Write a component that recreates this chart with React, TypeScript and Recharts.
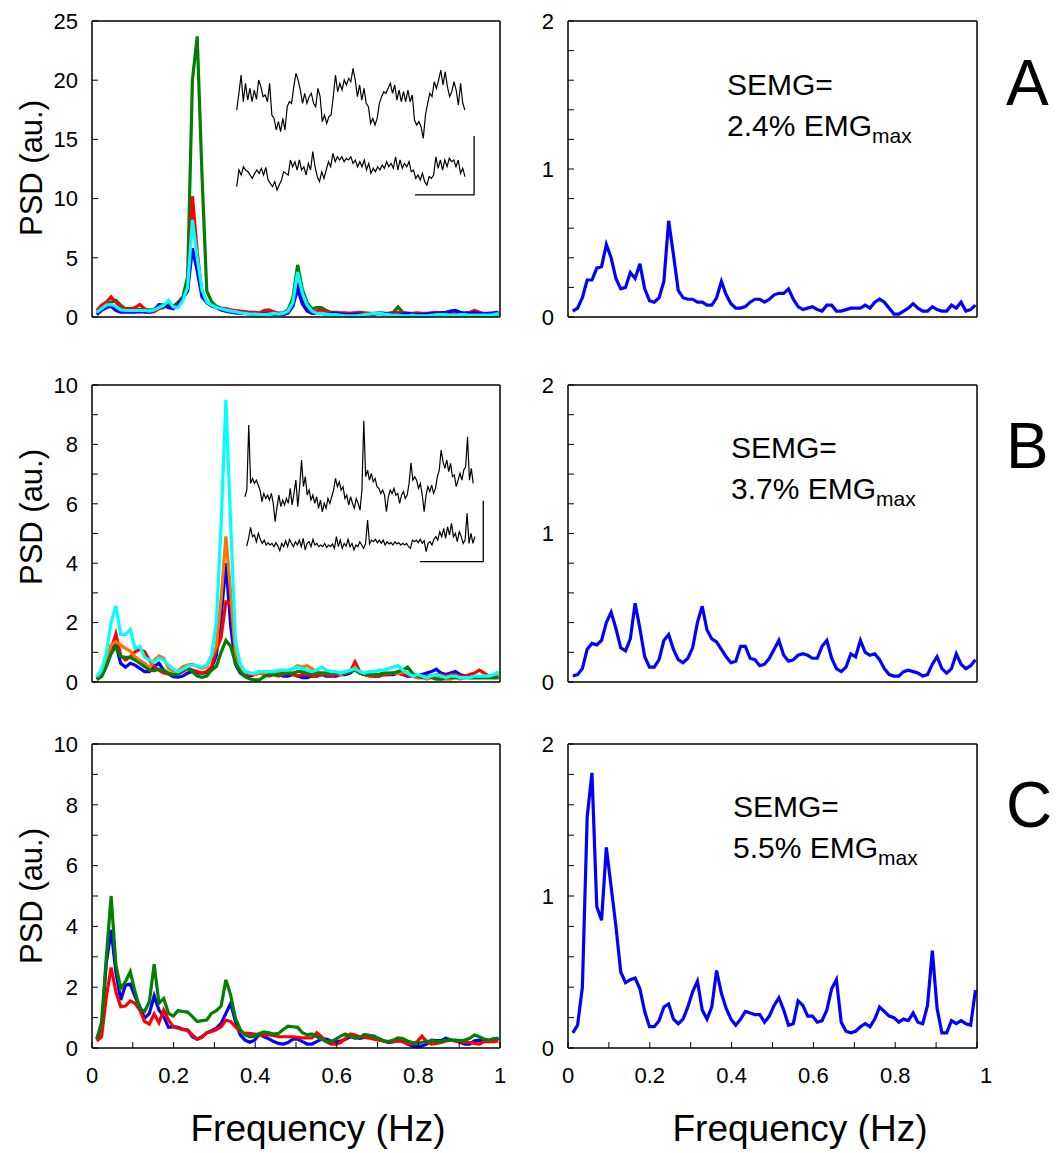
import React from "react";
import { LineChart, Line, XAxis, YAxis, ReferenceLine } from "recharts";

// frequency grid of the spectra (Hz)
const DF = 0.01172;
const FREQ = Array.from({ length: 85 }, (_, k) => Number(((k + 1) * DF).toFixed(5)));

const X_TICKS = [0, 0.1, 0.2, 0.3, 0.4, 0.5, 0.6, 0.7, 0.8, 0.9, 1];
const PSD_TICKS_A = [0, 5, 10, 15, 20, 25];
const PSD_TICKS_BC = [0, 1, 2, 3, 4, 5, 6, 7, 8, 9, 10];
const SEMG_TICKS = [0, 0.2, 0.4, 0.6, 0.8, 1, 1.2, 1.4, 1.6, 1.8, 2];

// --- panel A, left: PSD of each recording
const A_GREEN = [
  0.4, 0.7, 1.0, 1.25, 1.4, 1.0, 0.7, 0.6, 0.63, 0.63, 0.63, 0.6, 0.6, 0.7, 0.8, 1.05, 0.9, 1.25, 1.7, 3.4,
  20.0, 23.7, 12.0, 2.2, 1.3, 0.9, 0.75, 0.7, 0.55, 0.5, 0.45, 0.4, 0.3, 0.3, 0.3, 0.4, 0.35, 0.35, 0.3, 0.35,
  0.6, 1.6, 4.4, 2.3, 1.2, 0.7, 0.8, 0.8, 0.55, 0.35, 0.3, 0.3, 0.25, 0.3, 0.3, 0.25, 0.2, 0.2, 0.25, 0.3,
  0.25, 0.3, 0.4, 0.85, 0.4, 0.3, 0.25, 0.2, 0.2, 0.25, 0.25, 0.2, 0.2, 0.25, 0.3, 0.25, 0.2, 0.2, 0.25, 0.3,
  0.25, 0.2, 0.2, 0.2, 0.2,
];
const A_RED = [
  0.55, 1.0, 1.25, 1.7, 1.25, 0.8, 0.7, 0.7, 0.8, 1.05, 0.7, 0.4, 0.45, 0.7, 1.0, 0.8, 0.9, 1.1, 1.6, 2.2,
  10.2, 5.5, 2.0, 1.25, 0.95, 0.8, 0.7, 0.7, 0.6, 0.55, 0.5, 0.45, 0.4, 0.4, 0.35, 0.55, 0.6, 0.45, 0.3, 0.3,
  0.4, 1.0, 2.9, 1.4, 0.8, 0.5, 0.5, 0.6, 0.45, 0.4, 0.4, 0.35, 0.35, 0.3, 0.35, 0.4, 0.35, 0.3, 0.3, 0.35,
  0.3, 0.3, 0.35, 0.4, 0.35, 0.3, 0.3, 0.35, 0.3, 0.3, 0.35, 0.4, 0.35, 0.3, 0.3, 0.35, 0.3, 0.35, 0.4, 0.55,
  0.4, 0.3, 0.3, 0.25, 0.3,
];
const A_BLUE = [
  0.2, 0.55, 0.8, 0.9, 0.55, 0.4, 0.4, 0.4, 0.4, 0.45, 0.4, 0.4, 0.6, 1.05, 1.0, 0.8, 0.7, 1.0, 1.55, 2.2,
  5.8, 3.9, 1.7, 1.2, 0.95, 0.8, 0.6, 0.5, 0.4, 0.35, 0.3, 0.3, 0.25, 0.2, 0.2, 0.25, 0.3, 0.25, 0.2, 0.2,
  0.35, 0.9, 2.4, 1.1, 0.5, 0.3, 0.3, 0.3, 0.25, 0.3, 0.3, 0.25, 0.2, 0.2, 0.25, 0.25, 0.2, 0.2, 0.25, 0.35,
  0.3, 0.25, 0.2, 0.2, 0.25, 0.3, 0.25, 0.2, 0.2, 0.25, 0.3, 0.3, 0.35, 0.4, 0.5, 0.55, 0.4, 0.3, 0.3, 0.35,
  0.3, 0.25, 0.3, 0.35, 0.4,
];
const A_CYAN = [
  0.4, 0.7, 1.0, 1.05, 0.9, 0.6, 0.55, 0.55, 0.55, 0.55, 0.55, 0.5, 0.6, 0.8, 1.0, 1.4, 0.85, 0.8, 1.4, 2.5,
  8.2, 5.0, 2.3, 1.25, 1.0, 0.8, 0.7, 0.6, 0.5, 0.45, 0.35, 0.3, 0.25, 0.25, 0.2, 0.2, 0.25, 0.3, 0.25, 0.3,
  0.5, 1.2, 3.8, 2.0, 1.0, 0.5, 0.3, 0.3, 0.25, 0.2, 0.2, 0.15, 0.1, 0.1, 0.1, 0.15, 0.2, 0.25, 0.3, 0.35,
  0.25, 0.2, 0.15, 0.15, 0.1, 0.1, 0.15, 0.1, 0.1, 0.1, 0.15, 0.2, 0.2, 0.2, 0.15, 0.15, 0.2, 0.2, 0.15, 0.15,
  0.15, 0.15, 0.15, 0.2, 0.3,
];

// --- panel B, left
const B_CYAN = [
  0.18, 0.4, 0.97, 2.0, 2.56, 1.6, 1.6, 1.77, 1.13, 1.2, 0.83, 0.74, 0.68, 0.8, 0.74, 0.57, 0.43, 0.35, 0.43, 0.52,
  0.57, 0.54, 0.5, 0.57, 0.9, 2.0, 5.3, 9.5, 5.3, 1.4, 0.6, 0.35, 0.3, 0.3, 0.35, 0.35, 0.35, 0.35, 0.4, 0.4,
  0.4, 0.45, 0.5, 0.45, 0.4, 0.35, 0.4, 0.5, 0.4, 0.35, 0.35, 0.3, 0.35, 0.4, 0.45, 0.35, 0.3, 0.35, 0.35, 0.4,
  0.4, 0.45, 0.5, 0.55, 0.4, 0.3, 0.2, 0.25, 0.2, 0.15, 0.2, 0.25, 0.2, 0.15, 0.2, 0.2, 0.15, 0.15, 0.15, 0.2,
  0.2, 0.2, 0.2, 0.25, 0.35,
];
const B_ORANGE = [
  0.12, 0.3, 0.74, 1.25, 1.36, 1.25, 1.13, 1.04, 0.85, 0.74, 0.63, 0.46, 0.74, 0.88, 0.8, 0.46, 0.35, 0.38, 0.52, 0.57,
  0.6, 0.52, 0.46, 0.52, 0.85, 1.2, 2.8, 4.9, 3.0, 1.0, 0.45, 0.35, 0.3, 0.25, 0.3, 0.3, 0.3, 0.35, 0.3, 0.35,
  0.35, 0.45, 0.55, 0.5, 0.55, 0.45, 0.35, 0.3, 0.3, 0.3, 0.3, 0.25, 0.3, 0.35, 0.5, 0.3, 0.25, 0.25, 0.25, 0.25,
  0.3, 0.3, 0.3, 0.3, 0.35, 0.3, 0.2, 0.15, 0.15, 0.1, 0.15, 0.15, 0.1, 0.1, 0.1, 0.15, 0.1, 0.15, 0.15, 0.15,
  0.15, 0.2, 0.2, 0.2, 0.2,
];
const B_RED = [
  0.16, 0.35, 0.74, 1.1, 1.62, 0.9, 0.74, 0.85, 1.02, 1.1, 1.02, 0.74, 0.52, 0.4, 0.3, 0.27, 0.24, 0.27, 0.35, 0.46,
  0.4, 0.35, 0.3, 0.35, 0.52, 1.08, 1.5, 2.7, 2.65, 1.0, 0.35, 0.25, 0.25, 0.25, 0.3, 0.25, 0.2, 0.25, 0.2, 0.25,
  0.3, 0.25, 0.2, 0.25, 0.25, 0.2, 0.2, 0.25, 0.25, 0.2, 0.25, 0.25, 0.3, 0.35, 0.68, 0.35, 0.25, 0.2, 0.2, 0.2,
  0.25, 0.25, 0.3, 0.3, 0.25, 0.25, 0.2, 0.15, 0.15, 0.2, 0.2, 0.25, 0.25, 0.2, 0.25, 0.25, 0.2, 0.2, 0.25, 0.3,
  0.4, 0.3, 0.2, 0.2, 0.2,
];
const B_BLUE = [
  0.09, 0.2, 0.57, 0.97, 1.25, 0.63, 0.5, 0.63, 0.57, 0.46, 0.35, 0.35, 0.52, 0.63, 0.4, 0.27, 0.18, 0.16, 0.2, 0.3,
  0.35, 0.31, 0.3, 0.31, 0.46, 0.9, 2.2, 4.0, 1.9, 0.6, 0.3, 0.2, 0.2, 0.25, 0.35, 0.35, 0.3, 0.25, 0.25, 0.2,
  0.2, 0.25, 0.2, 0.15, 0.15, 0.2, 0.2, 0.25, 0.2, 0.2, 0.2, 0.25, 0.25, 0.3, 0.45, 0.3, 0.25, 0.25, 0.2, 0.2,
  0.25, 0.25, 0.25, 0.3, 0.25, 0.2, 0.2, 0.2, 0.25, 0.3, 0.35, 0.43, 0.3, 0.25, 0.3, 0.35, 0.25, 0.2, 0.15, 0.15,
  0.15, 0.15, 0.15, 0.15, 0.15,
];
const B_GREEN = [
  0.09, 0.18, 0.52, 0.97, 1.19, 0.85, 0.83, 0.83, 0.74, 0.63, 0.52, 0.4, 0.38, 0.43, 0.4, 0.3, 0.24, 0.27, 0.4, 0.46,
  0.35, 0.2, 0.16, 0.2, 0.4, 0.52, 1.0, 1.4, 1.2, 0.63, 0.35, 0.18, 0.1, 0.07, 0.07, 0.18, 0.25, 0.25, 0.25, 0.3,
  0.3, 0.3, 0.35, 0.35, 0.3, 0.3, 0.3, 0.3, 0.3, 0.3, 0.3, 0.3, 0.3, 0.35, 0.4, 0.3, 0.25, 0.25, 0.25, 0.25,
  0.3, 0.3, 0.3, 0.35, 0.4, 0.5, 0.3, 0.2, 0.15, 0.2, 0.15, 0.1, 0.1, 0.15, 0.15, 0.15, 0.15, 0.15, 0.15, 0.15,
  0.15, 0.15, 0.15, 0.15, 0.15,
];

// --- panel C, left
const C_GREEN = [
  0.3, 0.85, 3.0, 5.0, 2.73, 1.96, 2.18, 2.51, 1.85, 1.3, 1.2, 1.52, 2.76, 1.47, 1.63, 1.14, 1.05, 1.23, 1.2, 1.18,
  1.03, 0.87, 0.9, 0.92, 1.14, 1.23, 1.38, 2.24, 1.74, 0.98, 0.61, 0.43, 0.37, 0.39, 0.48, 0.53, 0.5, 0.46, 0.48, 0.61,
  0.72, 0.7, 0.68, 0.5, 0.43, 0.46, 0.37, 0.29, 0.21, 0.21, 0.29, 0.39, 0.46, 0.39, 0.32, 0.35, 0.45, 0.42, 0.37, 0.31,
  0.24, 0.21, 0.26, 0.33, 0.31, 0.23, 0.18, 0.15, 0.19, 0.21, 0.24, 0.21, 0.22, 0.26, 0.26, 0.26, 0.24, 0.26, 0.32, 0.43,
  0.37, 0.29, 0.26, 0.31, 0.32,
];
const C_BLUE = [
  0.29, 0.7, 2.8, 3.88, 2.5, 1.58, 2.07, 2.1, 1.69, 1.36, 0.98, 1.14, 1.72, 1.25, 1.03, 0.68, 0.7, 0.68, 0.61, 0.59,
  0.37, 0.29, 0.37, 0.5, 0.57, 0.65, 0.81, 1.14, 1.47, 0.87, 0.43, 0.26, 0.19, 0.26, 0.46, 0.37, 0.3, 0.21, 0.15, 0.13,
  0.18, 0.29, 0.29, 0.21, 0.13, 0.13, 0.21, 0.29, 0.29, 0.23, 0.21, 0.23, 0.29, 0.37, 0.35, 0.32, 0.35, 0.39, 0.39, 0.29,
  0.23, 0.18, 0.21, 0.24, 0.21, 0.13, 0.07, 0.04, 0.07, 0.13, 0.26, 0.24, 0.24, 0.32, 0.26, 0.24, 0.18, 0.13, 0.13, 0.24,
  0.26, 0.23, 0.21, 0.26, 0.32,
];
const C_RED = [
  0.23, 0.37, 1.69, 2.65, 1.85, 1.36, 1.38, 1.55, 1.47, 1.25, 0.87, 0.79, 1.12, 0.83, 1.25, 0.92, 0.7, 0.65, 0.61, 0.59,
  0.43, 0.29, 0.35, 0.5, 0.54, 0.61, 0.7, 0.92, 0.87, 0.7, 0.54, 0.48, 0.48, 0.46, 0.43, 0.44, 0.43, 0.41, 0.37, 0.37,
  0.37, 0.37, 0.35, 0.33, 0.33, 0.33, 0.5, 0.37, 0.21, 0.13, 0.13, 0.18, 0.32, 0.46, 0.43, 0.37, 0.35, 0.32, 0.29, 0.26,
  0.23, 0.2, 0.21, 0.24, 0.21, 0.15, 0.13, 0.21, 0.39, 0.21, 0.13, 0.15, 0.18, 0.23, 0.26, 0.23, 0.2, 0.19, 0.18, 0.15,
  0.13, 0.21, 0.21, 0.21, 0.23,
];

// --- right column: PSD of the SEMG signal
const A_SEMG = [
  0.04, 0.06, 0.13, 0.25, 0.25, 0.33, 0.34, 0.49, 0.4, 0.26, 0.19, 0.2, 0.3, 0.26, 0.36, 0.19, 0.11, 0.1, 0.13, 0.24,
  0.65, 0.42, 0.18, 0.13, 0.12, 0.12, 0.1, 0.1, 0.08, 0.08, 0.13, 0.24, 0.15, 0.09, 0.06, 0.06, 0.07, 0.1, 0.12, 0.12,
  0.1, 0.12, 0.15, 0.16, 0.16, 0.19, 0.12, 0.07, 0.05, 0.06, 0.07, 0.05, 0.04, 0.08, 0.08, 0.04, 0.04, 0.05, 0.06, 0.06,
  0.06, 0.08, 0.06, 0.1, 0.12, 0.1, 0.06, 0.02, 0.02, 0.04, 0.06, 0.09, 0.06, 0.04, 0.04, 0.07, 0.05, 0.04, 0.04, 0.08,
  0.06, 0.1, 0.04, 0.05, 0.08,
];
const B_SEMG = [
  0.04, 0.05, 0.09, 0.22, 0.26, 0.25, 0.28, 0.4, 0.47, 0.36, 0.23, 0.21, 0.29, 0.53, 0.36, 0.17, 0.1, 0.1, 0.15, 0.28,
  0.32, 0.22, 0.15, 0.13, 0.16, 0.23, 0.4, 0.51, 0.35, 0.29, 0.27, 0.22, 0.17, 0.13, 0.14, 0.24, 0.24, 0.16, 0.15, 0.11,
  0.12, 0.16, 0.22, 0.28, 0.18, 0.14, 0.15, 0.18, 0.19, 0.18, 0.16, 0.16, 0.24, 0.28, 0.16, 0.09, 0.07, 0.1, 0.19, 0.17,
  0.28, 0.2, 0.18, 0.19, 0.15, 0.09, 0.05, 0.04, 0.04, 0.07, 0.08, 0.07, 0.06, 0.04, 0.05, 0.12, 0.17, 0.09, 0.06, 0.09,
  0.19, 0.12, 0.09, 0.11, 0.15,
];
const C_SEMG = [
  0.1, 0.15, 0.4, 1.52, 1.81, 0.93, 0.84, 1.32, 1.06, 0.8, 0.5, 0.43, 0.45, 0.46, 0.39, 0.24, 0.14, 0.14, 0.18, 0.27,
  0.29, 0.19, 0.16, 0.19, 0.27, 0.37, 0.44, 0.25, 0.19, 0.27, 0.51, 0.36, 0.26, 0.19, 0.15, 0.19, 0.24, 0.23, 0.22, 0.22,
  0.17, 0.21, 0.28, 0.33, 0.25, 0.15, 0.16, 0.31, 0.28, 0.21, 0.21, 0.17, 0.18, 0.25, 0.39, 0.45, 0.17, 0.11, 0.1, 0.11,
  0.14, 0.16, 0.14, 0.19, 0.27, 0.24, 0.21, 0.2, 0.17, 0.19, 0.18, 0.23, 0.17, 0.16, 0.28, 0.64, 0.26, 0.1, 0.1, 0.18,
  0.16, 0.18, 0.16, 0.15, 0.38,
];

// --- inset raw traces (height inside the inset box, 0..100)
const A_TRACE_TOP = [
  66.1, 79.0, 93.1, 72.5, 86.7, 73.8, 82.8, 72.5, 81.5, 74.3, 89.2, 84.1, 76.4, 77.7, 72.5, 86.7, 62.3, 59.7, 50.8, 57.2,
  49.5, 59.7, 50.8, 68.7, 72.5, 71.3, 84.1, 94.3, 89.2, 81.5, 71.3, 79.0, 71.3, 76.4, 79.0, 71.3, 68.7, 82.8, 76.4, 57.2,
  62.3, 55.9, 61.0, 62.3, 76.4, 93.1, 80.2, 86.7, 81.5, 89.2, 85.4, 90.5, 87.9, 98.2, 89.2, 76.4, 85.4, 73.8, 82.8, 71.3,
  68.7, 55.9, 59.7, 54.6, 59.7, 71.3, 76.4, 80.2, 79.0, 82.8, 86.7, 79.0, 85.4, 73.8, 81.5, 72.5, 80.2, 72.5, 81.5, 72.5,
  77.7, 58.4, 54.6, 57.2, 53.3, 44.3, 62.3, 71.3, 79.0, 76.4, 87.9, 82.8, 89.2, 96.9, 85.4, 95.6, 84.1, 76.4, 80.2, 87.9,
  81.5, 70.0, 86.7, 71.3, 66.1,
];
const A_TRACE_BOTTOM = [
  7.2, 20.0, 16.1, 22.5, 20.0, 18.7, 16.1, 13.6, 17.4, 20.0, 17.4, 21.3, 16.1, 22.0, 12.3, 9.7, 7.2, 11.0, 4.6, 8.4,
  12.3, 18.7, 17.4, 16.1, 27.7, 22.5, 26.4, 20.0, 27.7, 20.0, 22.5, 16.1, 25.1, 20.0, 34.1, 22.5, 14.9, 11.0, 18.7, 13.6,
  20.0, 26.4, 22.5, 32.8, 26.4, 30.2, 27.7, 30.2, 26.4, 29.0, 27.7, 30.2, 25.1, 27.7, 22.5, 26.4, 22.5, 27.7, 20.0, 25.1,
  17.4, 21.3, 18.7, 22.5, 20.0, 23.8, 21.3, 26.4, 22.5, 25.1, 21.3, 30.2, 20.0, 27.7, 21.3, 25.1, 22.5, 26.4, 18.7, 20.0,
  13.6, 16.1, 12.3, 17.4, 11.0, 8.4, 14.9, 13.6, 16.1, 30.2, 21.3, 27.7, 20.0, 27.7, 22.5, 29.0, 26.4, 27.7, 22.5, 27.7,
  17.4, 21.3, 14.9,
];
const B_TRACE_TOP = [
  45.5, 50.0, 93.3, 54.4, 57.7, 54.4, 56.6, 53.3, 50.0, 42.2, 47.7, 44.4, 46.6, 43.3, 47.7, 41.1, 28.9, 38.9, 46.6, 38.9,
  43.3, 40.0, 44.4, 41.1, 51.1, 40.0, 47.7, 56.6, 38.9, 52.2, 70.0, 52.2, 58.9, 46.6, 50.0, 43.3, 46.6, 41.1, 45.5, 37.8,
  43.3, 35.5, 41.1, 37.8, 44.4, 41.1, 45.5, 50.0, 57.7, 52.2, 55.5, 50.0, 52.2, 44.4, 46.6, 40.0, 45.5, 41.1, 37.8, 44.4,
  41.1, 36.6, 50.0, 96.2, 58.9, 63.3, 56.6, 61.1, 55.5, 57.7, 52.2, 51.1, 47.7, 50.0, 46.6, 35.5, 45.5, 50.0, 47.7, 51.1,
  46.6, 47.7, 41.1, 46.6, 48.9, 44.4, 46.6, 54.4, 68.2, 56.6, 58.9, 56.6, 51.1, 54.4, 46.6, 35.5, 46.6, 52.2, 48.9, 53.3,
  47.7, 51.1, 58.9, 63.3, 76.6, 68.9, 64.4, 70.0, 62.2, 67.7, 58.9, 60.0, 52.2, 56.6, 61.1, 56.6, 63.3, 65.5, 85.5, 56.6,
  64.4, 54.4,
];
const B_TRACE_BOTTOM = [
  12.6, 17.7, 25.1, 18.9, 20.0, 15.5, 21.1, 17.1, 14.4, 16.6, 13.3, 14.9, 13.3, 14.4, 12.2, 14.9, 12.6, 9.5, 14.4, 12.2,
  16.2, 12.2, 17.1, 14.4, 12.2, 15.5, 13.3, 16.6, 12.2, 17.7, 10.0, 14.4, 15.5, 12.2, 17.1, 13.3, 14.4, 12.2, 13.3, 12.2,
  14.4, 11.7, 13.3, 12.2, 14.0, 11.1, 18.9, 12.2, 16.6, 11.1, 14.4, 12.6, 17.1, 12.2, 14.4, 10.0, 13.3, 12.2, 15.5, 13.3,
  11.1, 14.4, 30.0, 14.0, 16.6, 15.5, 17.1, 14.9, 16.6, 14.4, 16.6, 13.3, 15.5, 14.0, 14.9, 13.3, 15.5, 14.0, 14.9, 13.3,
  14.4, 13.3, 14.4, 12.2, 11.1, 16.6, 15.5, 16.6, 14.9, 17.1, 14.4, 16.2, 8.9, 14.4, 15.5, 13.3, 17.1, 18.9, 16.6, 22.2,
  18.9, 24.4, 17.7, 25.5, 20.0, 27.7, 18.9, 21.1, 15.5, 22.2, 18.9, 14.4, 16.6, 34.4, 14.4, 21.1, 14.4, 18.9,
];

type Series = { key: string; color: string; values: number[] };

const FONT = '"Liberation Sans", Arial, Helvetica, sans-serif';
const AX_W = 60; // left axis band
const AX_H = 46; // bottom axis band
const TOP_H = 16; // room above the frame for the top tick label
const RIGHT_W = 18; // room right of the frame for the last x label

function rowsOf(series: Series[]) {
  return FREQ.map((f, k) => {
    const row: Record<string, number> = { f };
    series.forEach((s) => {
      row[s.key] = s.values[k];
    });
    return row;
  });
}

// x tick labels: every 0.2, optional nudge of the final "1"
function makeXTick(lastShift: number) {
  return function XTick(props: any) {
    const { x, y, payload } = props;
    const v = payload.value as number;
    if (Math.round(v * 10) % 2 !== 0) return <g />;
    return (
      <text x={x + (v === 1 ? lastShift : 0)} y={y} dy="0.71em" textAnchor="middle" fontSize={22} fill="#000">
        {String(v)}
      </text>
    );
  };
}

type PanelProps = {
  left: number;
  top: number;
  bottom: number;
  width: number;
  domain: [number, number];
  yTicks: number[];
  yFormat: (v: number) => string;
  showX: boolean;
  lastShift: number;
  series: Series[];
};

function Panel({ left, top, bottom, width, domain, yTicks, yFormat, showX, lastShift, series }: PanelProps) {
  const h = bottom - top;
  const axisLine = { stroke: "#000", strokeWidth: 1.5 };
  const tickLine = { stroke: "#000", strokeWidth: 1 };
  return (
    <div style={{ position: "absolute", left: left - AX_W, top: top - TOP_H }}>
      <LineChart
        width={AX_W + width + RIGHT_W}
        height={TOP_H + h + AX_H}
        data={rowsOf(series)}
        margin={{ top: 0, right: 0, bottom: 0, left: 0 }}
      >
        <XAxis
          xAxisId="b"
          dataKey="f"
          type="number"
          domain={[0, 1]}
          ticks={X_TICKS}
          interval={0}
          height={AX_H}
          tickSize={-6}
          tickMargin={25}
          axisLine={axisLine}
          tickLine={tickLine}
          tick={showX ? makeXTick(lastShift) : false}
        />
        <XAxis
          xAxisId="t"
          orientation="top"
          dataKey="f"
          type="number"
          domain={[0, 1]}
          ticks={X_TICKS}
          interval={0}
          height={TOP_H}
          tickSize={-6}
          axisLine={axisLine}
          tickLine={tickLine}
          tick={false}
        />
        <YAxis
          yAxisId="l"
          type="number"
          domain={domain}
          ticks={yTicks}
          interval={0}
          width={AX_W}
          tickSize={-6}
          tickMargin={20}
          axisLine={axisLine}
          tickLine={tickLine}
          tick={{ fontSize: 22, fill: "#000" }}
          tickFormatter={yFormat}
        />
        <YAxis
          yAxisId="r"
          orientation="right"
          type="number"
          domain={domain}
          ticks={yTicks}
          interval={0}
          width={RIGHT_W}
          tickSize={-6}
          axisLine={axisLine}
          tickLine={tickLine}
          tick={false}
        />
        {series.map((s) => (
          <Line
            key={s.key}
            xAxisId="b"
            yAxisId="l"
            type="linear"
            dataKey={s.key}
            stroke={s.color}
            strokeWidth={3.2}
            dot={false}
            isAnimationActive={false}
          />
        ))}
      </LineChart>
    </div>
  );
}

function traceRows(values: number[], x0: number, x1: number) {
  return values.map((v, k) => ({ t: x0 + ((x1 - x0) * k) / (values.length - 1), v }));
}

type InsetProps = {
  left: number;
  top: number;
  width: number;
  height: number;
  upper: { t: number; v: number }[];
  lower: { t: number; v: number }[];
  barX: number;
  barX0: number;
  barY0: number;
  barY1: number;
};

function Inset({ left, top, width, height, upper, lower, barX, barX0, barY0, barY1 }: InsetProps) {
  return (
    <div style={{ position: "absolute", left, top }}>
      <LineChart width={width} height={height} margin={{ top: 0, right: 0, bottom: 0, left: 0 }}>
        <XAxis type="number" dataKey="t" domain={[0, 100]} hide />
        <YAxis type="number" domain={[0, 100]} hide />
        <Line data={upper} dataKey="v" type="linear" stroke="#000" strokeWidth={1.2} dot={false} isAnimationActive={false} />
        <Line data={lower} dataKey="v" type="linear" stroke="#000" strokeWidth={1.2} dot={false} isAnimationActive={false} />
        <ReferenceLine segment={[{ x: barX, y: barY0 }, { x: barX, y: barY1 }]} stroke="#000" strokeWidth={1.3} />
        <ReferenceLine segment={[{ x: barX0, y: barY0 }, { x: barX, y: barY0 }]} stroke="#000" strokeWidth={1.3} />
      </LineChart>
    </div>
  );
}

const LEFT_X = 92;
const RIGHT_X = 568;
const PLOT_W = 408;
const ROWS = [
  { top: 21, bottom: 317, mid: 168, letter: "A", semg: "2.4%", semgX: 727, semgY: 95 },
  { top: 385, bottom: 682, mid: 517, letter: "B", semg: "3.7%", semgX: 731, semgY: 458 },
  { top: 744, bottom: 1048, mid: 896, letter: "C", semg: "5.5%", semgX: 733, semgY: 817 },
];

const intLabel = (v: number) => String(v);
const evenLabel = (v: number) => (v % 2 === 0 ? String(v) : "");
const unitLabel = (v: number) => (Number.isInteger(v) ? String(v) : "");

export default function App() {
  const leftSeries: Series[][] = [
    [
      { key: "green", color: "#008000", values: A_GREEN },
      { key: "red", color: "#ff0000", values: A_RED },
      { key: "blue", color: "#0000ff", values: A_BLUE },
      { key: "cyan", color: "#00ffff", values: A_CYAN },
    ],
    [
      { key: "blue", color: "#0000ff", values: B_BLUE },
      { key: "red", color: "#ff0000", values: B_RED },
      { key: "orange", color: "#ff7300", values: B_ORANGE },
      { key: "green", color: "#008000", values: B_GREEN },
      { key: "cyan", color: "#00ffff", values: B_CYAN },
    ],
    [
      { key: "blue", color: "#0000ff", values: C_BLUE },
      { key: "red", color: "#ff0000", values: C_RED },
      { key: "green", color: "#008000", values: C_GREEN },
    ],
  ];
  const rightSeries = [A_SEMG, B_SEMG, C_SEMG];

  return (
    <div
      style={{
        position: "absolute",
        left: 0,
        top: 0,
        width: 1056,
        height: 1153,
        background: "#fff",
        fontFamily: FONT,
        color: "#000",
      }}
    >
      {ROWS.map((r, i) => (
        <React.Fragment key={r.letter}>
          <Panel
            left={LEFT_X}
            top={r.top}
            bottom={r.bottom}
            width={PLOT_W}
            domain={i === 0 ? [0, 25] : [0, 10]}
            yTicks={i === 0 ? PSD_TICKS_A : PSD_TICKS_BC}
            yFormat={i === 0 ? intLabel : evenLabel}
            showX={i === 2}
            lastShift={0}
            series={leftSeries[i]}
          />
          <Panel
            left={RIGHT_X}
            top={r.top}
            bottom={r.bottom}
            width={PLOT_W + 1}
            domain={[0, 2]}
            yTicks={SEMG_TICKS}
            yFormat={unitLabel}
            showX={i === 2}
            lastShift={9}
            series={[{ key: "semg", color: "#0000ff", values: rightSeries[i] }]}
          />
        </React.Fragment>
      ))}

      <Inset
        left={236}
        top={66}
        width={240}
        height={130}
        upper={traceRows(A_TRACE_TOP, 0.3, 95.4)}
        lower={traceRows(A_TRACE_BOTTOM, 0.3, 95.4)}
        barX={99.2}
        barX0={74.6}
        barY0={0.8}
        barY1={46.2}
      />
      <Inset
        left={244}
        top={415}
        width={240}
        height={150}
        upper={traceRows(B_TRACE_TOP, 0.4, 95.5)}
        lower={traceRows(B_TRACE_BOTTOM, 1.1, 96.2)}
        barX={99.7}
        barX0={73.3}
        barY0={2.2}
        barY1={42.9}
      />

      <svg
        width={1056}
        height={1153}
        style={{ position: "absolute", left: 0, top: 0, pointerEvents: "none", fontFamily: FONT }}
      >
        {ROWS.map((r) => (
          <g key={r.letter}>
            <text
              transform={`translate(31 ${r.mid}) rotate(-90)`}
              textAnchor="middle"
              dominantBaseline="central"
              fontSize={31}
              fill="#000"
            >
              PSD (au.)
            </text>
            <text x={r.semgX} y={r.semgY} fontSize={30} fill="#000">
              SEMG=
            </text>
            <text x={r.semgX} y={r.semgY + 41} fontSize={30} fill="#000">
              {r.semg} EMG
              <tspan fontSize={21} dy={7}>
                max
              </tspan>
            </text>
            <text x={1006} y={r.semgY + 10} fontSize={64} fill="#000">
              {r.letter}
            </text>
          </g>
        ))}
        <text x={318} y={1141} textAnchor="middle" fontSize={37} fill="#000">
          Frequency (Hz)
        </text>
        <text x={800} y={1141} textAnchor="middle" fontSize={37} fill="#000">
          Frequency (Hz)
        </text>
      </svg>
    </div>
  );
}
